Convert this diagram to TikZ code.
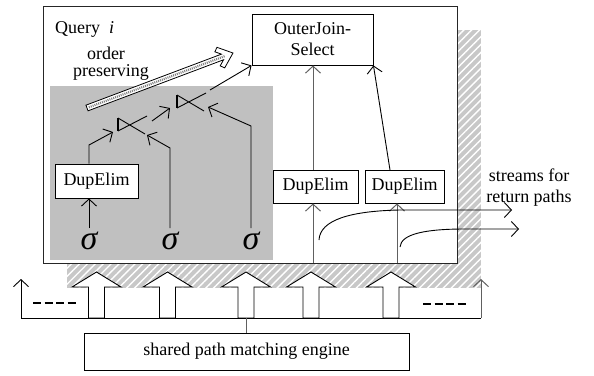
\documentclass[tikz,border=0pt]{standalone}
\usepackage{fontspec}
\setmainfont{Liberation Serif}
\usetikzlibrary{arrows.meta,patterns.meta,calc}
\definecolor{hatchgray}{HTML}{C8C8C8}
\definecolor{regiongray}{HTML}{C0C0C0}
\definecolor{linegray}{HTML}{606060}
\begin{document}
\begin{tikzpicture}[x=1pt,y=-1pt,
  lbl/.style={font=\fontsize{18}{21}\selectfont, inner sep=0pt},
  box/.style={draw, fill=white, lbl, line width=0.9pt},
  tip/.style={-{Straight Barb[length=7pt,width=15pt]}},
  conn/.style={line width=0.9pt, tip},
  gconn/.style={line width=1pt, linegray, tip},
  sig/.style={font=\fontsize{34}{34}\selectfont\itshape, inner sep=0pt},
  blockarrow/.style={draw, fill=white, line width=0.9pt},
  dashbar/.style={line width=2.6pt, dash pattern=on 8pt off 3.5pt}
]
\useasboundingbox (0,0) rectangle (594,375);

% hatched shadow
\fill[hatchgray] (67,30) rectangle (481,288);
\fill[pattern={Lines[angle=45,distance=5.6pt,line width=1.4pt]}, pattern color=white] (67,30) rectangle (481,288);

% query box
\node[draw=black!85, fill=white, line width=1pt, minimum width=414pt, minimum height=257pt, inner sep=0pt] (qbox) at (250,134.5) {};
% grey region
\node[fill=regiongray, minimum width=223pt, minimum height=174pt, inner sep=0pt] (region) at (161.5,173) {};

\node[lbl, anchor=west] (qlabel) at (55,29) {Query\ \ \textit{i}};
\node[lbl] (order) at (106,53) {order};
\node[lbl] (pres) at (111,72) {preserving};

% hollow "order preserving" arrow
\coordinate (ha1) at (87,108);
\coordinate (ha2) at (233,53);
\begin{scope}[shift={(ha1)}, rotate=20.64]
  \draw[fill=white, line width=0.8pt, line join=miter]
    (0,3) -- (144.8,3) -- (139.5,7.5) -- (143,11) -- (156,0) -- (143,-11) -- (139.5,-7.5) -- (144.8,-3) -- (0,-3) -- cycle;
  \draw[gray, line width=2.2pt, dash pattern=on 1pt off 1pt] (2,0) -- (148,0);
\end{scope}

% boxes
\node[box, minimum width=121pt, minimum height=51pt, align=center] (ojs) at (312.5,39.5) {OuterJoin-\\Select};
\node[box, minimum width=83pt, minimum height=34pt] (de1) at (96.5,181) {DupElim};
\node[box, minimum width=85pt, minimum height=33pt] (de2) at (315.5,186.5) {DupElim};
\node[box, minimum width=79pt, minimum height=33pt] (de3) at (404.5,186.5) {DupElim};

% sigmas
\node[sig] (s1) at (89,241) {σ};
\node[sig] (s2) at (170,241) {σ};
\node[sig] (s3) at (251,241) {σ};

% bowties
\coordinate (b1) at (132,125);
\coordinate (b2) at (191,102);
\foreach \b in {b1,b2}{
  \draw[line width=1.3pt] ($(\b)+(-14,-7)$) -- ($(\b)+(-14,6)$);
  \draw[line width=0.9pt] ($(\b)+(-14,-7)$) -- ($(\b)+(13,9)$) ($(\b)+(-14,6)$) -- ($(\b)+(15,-9)$);
}

% connectors in grey region
\draw[conn] (89,228) -- (de1.south -| 89,0);
\draw[conn] (de1.north -| 89,0) -- (89,145) -- ($(b1)+(-19,7)$);
\draw[conn] (170,228) -- (170,148) -- ($(b1)+(15,10)$);
\draw[conn] ($(b1)+(20,-4)$) -- ($(b2)+(-21,6)$);
\draw[conn] (251,228) -- (251,126) -- ($(b2)+(17,5)$);
\draw[conn] ($(b2)+(19,-12)$) -- (ojs.south west);

% right connectors
\coordinate (d2b) at (313,263);
\coordinate (d3b) at (397,263);
\draw[gconn] (d2b) -- (de2.south -| d2b);
\draw[gconn] (de2.north -| d2b) -- (ojs.south -| d2b);
\draw[gconn] (d3b) -- (de3.south -| d3b);
\draw[conn] (390,170) -- (ojs.south east);

% return-path streams
\coordinate (r1s) at (319,240);
\coordinate (r1e) at (512,210);
\coordinate (r2s) at (400,247);
\coordinate (r2e) at (519,229);
\draw[conn] (r1s) .. controls (320,220) and (350,211) .. (400,210) -- (r1e);
\draw[conn] (r2s) .. controls (401,234) and (425,229) .. (465,229) -- (r2e);
\node[lbl, align=center] (streams) at (529,188) {streams for\\return paths};

% bottom
\foreach \x in {96.5,167.5,246,311,391}{
  \draw[blockarrow] (\x,272) -- (\x+24.5,287) -- (\x+8,287) -- (\x+8,318) -- (\x-8,318) -- (\x-8,287) -- (\x-24.5,287) -- cycle;
}
\coordinate (bl) at (21,318);
\coordinate (br) at (481,318);
\coordinate (blt) at (21,279);
\coordinate (brt) at (481,279);
\draw[line width=0.9pt] (bl) -- (br);
\draw[conn] (bl) -- (blt);
\draw[gconn] (br) -- (brt);
\draw[dashbar] (33,303) -- (77,303);
\draw[dashbar] (423,304) -- (467,304);

\node[box, minimum width=325pt, minimum height=37pt] (engine) at (246.5,351.5) {shared path matching engine};
\coordinate (a3b) at (246,318);
\draw[line width=0.9pt, linegray] (a3b) -- (engine.north -| a3b);
\end{tikzpicture}
\end{document}
